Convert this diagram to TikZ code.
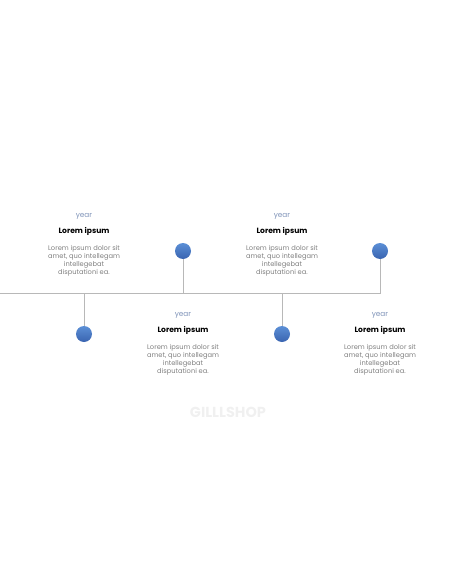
\documentclass[tikz,border=0pt]{standalone}
\usepackage{fontspec}
\setmainfont{Poppins}
\begin{document}
\begin{tikzpicture}[x=1pt,y=-1pt]
\definecolor{dotA}{HTML}{5B8FD6}
\definecolor{dotB}{HTML}{3A64B0}
\definecolor{yrc}{HTML}{7F93B8}
\tikzset{
  conn/.style={draw=black!28, line width=0.9pt},
  dot/.style={circle, minimum size=16pt, inner sep=0pt, top color=dotA, bottom color=dotB},
  yr/.style={font=\fontsize{7.3}{8}\selectfont, text=yrc, anchor=center},
  ttl/.style={font=\fontsize{7.6}{8}\bfseries\selectfont, text=black, anchor=center},
  body/.style={font=\fontsize{6.7}{8}\selectfont, text=black!50, align=center, anchor=north}}
\useasboundingbox (0,0) rectangle (456,586);
% timeline
\coordinate (L) at (0,293);
\coordinate (J1) at (84,293);
\coordinate (J2) at (183,293);
\coordinate (J3) at (282,293);
\coordinate (J4) at (380,293);
\node[dot] (d1) at (84,334) {};
\node[dot] (d2) at (183,251) {};
\node[dot] (d3) at (282,334) {};
\node[dot] (d4) at (380,251) {};
\draw[conn] (L) -- (J4) -- (d4);
\draw[conn] (J1) -- (d1);
\draw[conn] (J2) -- (d2);
\draw[conn] (J3) -- (d3);
% texts
\foreach \i/\x/\y in {1/84/216.5, 2/183/315.5, 3/282/216.5, 4/380/315.5}{
  \node[yr] (y\i) at (\x,\y) {year};
  \node[ttl] (t\i) at (\x,\y+14.5) {Lorem ipsum};
  \node[body] (b\i) at (\x,\y+25.5) {Lorem ipsum dolor sit\\amet, quo intellegam\\intellegebat\\disputationi ea.};
}
\node[font=\fontsize{14.5}{15}\bfseries\selectfont, text=black!6] (wm) at (228,412) {GILLLSHOP};
\end{tikzpicture}
\end{document}
